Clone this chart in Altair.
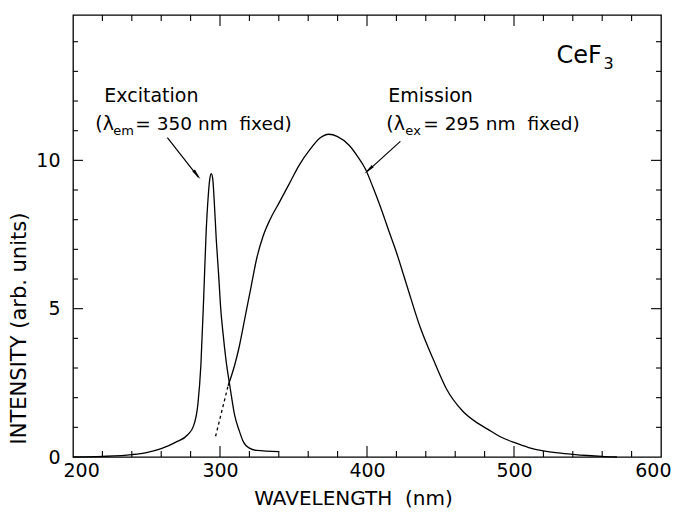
import altair as alt
import pandas as pd

# ---------------- data ----------------
exc_x = [200, 220, 240, 250, 260, 270, 278, 282, 285, 287, 289, 290.5, 292, 293, 294,
         295, 296, 297.5, 299, 300.5, 302, 304, 307, 310, 313, 316, 320, 325, 340]
exc_y = [0.0, 0.02, 0.08, 0.15, 0.28, 0.5, 0.75, 1.05, 1.8, 3.1, 5.5, 7.5, 8.8, 9.35, 9.55,
         9.4, 8.7, 7.3, 6.2, 5.0, 4.2, 3.3, 2.3, 1.4, 0.9, 0.5, 0.3, 0.22, 0.18]

em_x = [305.5, 310, 313, 317, 321, 325, 329, 334, 340, 347, 354, 361, 368, 374, 380,
        388, 394, 399, 404, 409, 415, 420, 427, 436, 445, 454, 465, 475, 482, 490,
        500, 510, 520, 530, 540, 550, 560, 570]
em_y = [2.4, 3.1, 3.7, 4.7, 5.7, 6.7, 7.4, 8.0, 8.55, 9.2, 9.85, 10.35, 10.75, 10.88, 10.8,
        10.5, 10.1, 9.7, 9.1, 8.45, 7.6, 6.9, 5.8, 4.4, 3.3, 2.3, 1.55, 1.15, 0.94, 0.7,
        0.49, 0.32, 0.21, 0.14, 0.09, 0.05, 0.02, 0.0]

em_dash_x = [297, 301, 305.5]
em_dash_y = [0.7, 1.5, 2.4]

x_tick_labels = [200, 300, 400, 500, 600]
y_tick_labels = [0, 5, 10]
x_minor = [220, 240, 260, 280, 320, 340, 360, 380, 420, 440, 460, 480, 520, 540, 560, 580]
x_major = [300, 400, 500]
y_minor = [1, 2, 3, 4, 6, 7, 8, 9, 11, 12, 13, 14]
y_major = [5, 10]

NB = "\u00a0"
# annotation texts (positions in data units)
txt_label = ["Excitation", "(\u03bb", "=" + NB + "350" + NB + "nm" + NB + NB + "fixed)",
             "Emission", "(\u03bb", "=" + NB + "295" + NB + "nm" + NB + NB + "fixed)", "CeF"]
txt_x = [221.3, 215.2, 242.4, 414.5, 413.1, 438.3, 528.9]
txt_y = [11.97, 11.01, 11.01, 11.97, 11.01, 11.01, 13.27]
txt_size = [19, 19, 18.5, 19, 19, 18.5, 24]

sub_label = ["em", "ex", "3"]
sub_x = [227.4, 426.1, 560.9]
sub_y = [10.87, 10.87, 13.07]
sub_size = [13, 13, 16]

arrow_x = [264.2, 422.7]
arrow_y = [10.77, 10.64]
arrow_x2 = [285.4, 400.2]
arrow_y2 = [9.43, 9.63]
head_x = [283.6, 402.0]
head_y = [9.56, 9.72]
head_angle = [142, 228]

W, H = 588, 442
FONT = "DejaVu Sans"

xs = alt.Scale(domain=[200, 600], nice=False, zero=False)
ys = alt.Scale(domain=[0, 14.9], nice=False, zero=False)

exc = pd.DataFrame({"x": exc_x, "y": exc_y})
em = pd.DataFrame({"x": em_x, "y": em_y})
emd = pd.DataFrame({"x": em_dash_x, "y": em_dash_y})

x_axis = alt.Axis(values=x_tick_labels, ticks=False, domain=False, grid=False,
                  labelFont=FONT, labelFontSize=19, labelColor="black", labelPadding=4,
                  labelFlush=True, labelFlushOffset=10,
                  title="WAVELENGTH" + NB + NB + "(nm)", titleFont=FONT,
                  titleFontSize=20, titleFontWeight="normal", titleColor="black",
                  titleX=280, titleY=47, titleBaseline="alphabetic", titleAlign="center")
y_axis = alt.Axis(values=y_tick_labels, ticks=False, domain=False, grid=False,
                  labelFont=FONT, labelFontSize=19, labelColor="black", labelPadding=13,
                  title="INTENSITY (arb. units)", titleFont=FONT, titleFontSize=21,
                  titleFontWeight="normal", titleColor="black", titleAngle=270,
                  titleX=-48, titleY=313, titleBaseline="alphabetic", titleAlign="center")


def X(field):
    return alt.X(field, scale=xs, axis=x_axis)


def Y(field):
    return alt.Y(field, scale=ys, axis=y_axis)


exc_line = alt.Chart(exc).mark_line(color="black", strokeWidth=1.3, interpolate="monotone").encode(
    x=X("x:Q"), y=Y("y:Q"))
em_line = alt.Chart(em).mark_line(color="black", strokeWidth=1.3, interpolate="monotone").encode(
    x=X("x:Q"), y=Y("y:Q"))
em_dash = alt.Chart(emd).mark_line(color="black", strokeWidth=1.3, strokeDash=[3, 3]).encode(
    x=X("x:Q"), y=Y("y:Q"))


def xticks(vals, length, top):
    df = pd.DataFrame({"x": vals})
    if top:
        y0, y1 = 0, length
    else:
        y0, y1 = H, H - length
    return alt.Chart(df).mark_rule(color="black", strokeWidth=1.1).encode(
        x=X("x:Q"), y=alt.value(y0), y2=alt.value(y1))


def yticks(vals, length, right):
    df = pd.DataFrame({"y": vals})
    if right:
        x0, x1 = W, W - length
    else:
        x0, x1 = 0, length
    return alt.Chart(df).mark_rule(color="black", strokeWidth=1.1).encode(
        y=Y("y:Q"), x=alt.value(x0), x2=alt.value(x1))


ticks = [
    xticks(x_minor, 6, False), xticks(x_major, 11, False),
    xticks(x_minor, 6, True), xticks(x_major, 11, True),
    yticks(y_minor, 5, False), yticks(y_major, 10, False),
    yticks(y_minor, 5, True), yticks(y_major, 10, True),
]

txt = pd.DataFrame({"label": txt_label, "x": txt_x, "y": txt_y, "size": txt_size})
texts = alt.Chart(txt).mark_text(align="left", baseline="alphabetic", font=FONT, color="black").encode(
    x=X("x:Q"), y=Y("y:Q"),
    text="label:N",
    size=alt.Size("size:Q", scale=None, legend=None),
)
sub = pd.DataFrame({"label": sub_label, "x": sub_x, "y": sub_y, "size": sub_size})
subs = alt.Chart(sub).mark_text(align="left", baseline="alphabetic", font=FONT, color="black").encode(
    x=X("x:Q"), y=Y("y:Q"),
    text="label:N",
    size=alt.Size("size:Q", scale=None, legend=None),
)

arr = pd.DataFrame({"x": arrow_x, "y": arrow_y, "x2": arrow_x2, "y2": arrow_y2})
arrows = alt.Chart(arr).mark_rule(color="black", strokeWidth=1.2).encode(
    x=X("x:Q"), y=Y("y:Q"), x2="x2:Q", y2="y2:Q")
hd = pd.DataFrame({"x": head_x, "y": head_y, "a": head_angle})
heads = alt.Chart(hd).mark_point(shape="wedge", filled=True, color="black", size=170, opacity=1).encode(
    x=X("x:Q"), y=Y("y:Q"),
    angle=alt.Angle("a:Q", scale=None))

chart = alt.layer(exc_line, em_line, em_dash, *ticks, arrows, heads, texts, subs).properties(
    width=W, height=H,
    padding={"left": 73, "top": 15, "right": 14, "bottom": 55},
    autosize=alt.AutoSizeParams(type="none"),
    background="white",
).configure_view(stroke="black", strokeWidth=1.3)

chart.save("out.html", embed_options={"renderer": "svg", "actions": False})
